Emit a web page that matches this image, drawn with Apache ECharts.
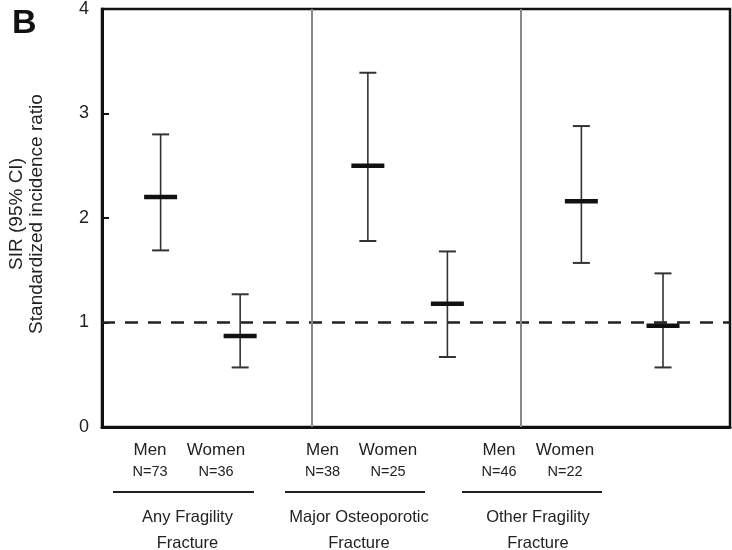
<!DOCTYPE html>
<html>
<head>
<meta charset="utf-8">
<script src="https://cdn.jsdelivr.net/npm/echarts@6/dist/echarts.min.js"></script>
<style>
html,body{margin:0;padding:0;background:#fff;}
#c{width:732px;height:550px;}
</style>
</head>
<body>
<div id="c"></div>
<script>
// ---- data ----
const groups = ['Any Fragility\nFracture', 'Major Osteoporotic\nFracture', 'Other Fragility\nFracture'];
const sexes = ['Men', 'Women', 'Men', 'Women', 'Men', 'Women'];
const nLabels = ['N=73', 'N=36', 'N=38', 'N=25', 'N=46', 'N=22'];
const groupIndex = [0, 0, 1, 1, 2, 2];
const sir = [2.2, 0.87, 2.5, 1.18, 2.16, 0.97];
const ciLow = [1.69, 0.57, 1.78, 0.67, 1.57, 0.57];
const ciHigh = [2.8, 1.27, 3.39, 1.68, 2.88, 1.47];
const yTicks = [0, 1, 2, 3, 4];
const refLine = 1;
const panelDividers = [1, 2];

// within-panel offsets (axis units) for men / women
const offsets = [0.28, 0.66, 0.27, 0.65, 0.29, 0.68];

const FONT = 'Liberation Sans, Arial, Helvetica, sans-serif';
const chart = echarts.init(document.getElementById('c'), null, {renderer: 'canvas'});

const data = sir.map((v, i) => [groupIndex[i] + offsets[i], v, ciLow[i], ciHigh[i]]);

function renderItem(params, api) {
  const x = api.value(0);
  const m = api.coord([x, api.value(1)]);
  const lo = api.coord([x, api.value(2)]);
  const hi = api.coord([x, api.value(3)]);
  const capW = 8.5, barW = 16.5;
  return {
    type: 'group',
    children: [
      {type: 'line', shape: {x1: lo[0], y1: lo[1], x2: hi[0], y2: hi[1]}, style: {stroke: '#333', lineWidth: 1.6}},
      {type: 'line', shape: {x1: lo[0] - capW, y1: lo[1], x2: lo[0] + capW, y2: lo[1]}, style: {stroke: '#333', lineWidth: 2}},
      {type: 'line', shape: {x1: hi[0] - capW, y1: hi[1], x2: hi[0] + capW, y2: hi[1]}, style: {stroke: '#333', lineWidth: 2}},
      {type: 'line', shape: {x1: m[0] - barW, y1: m[1], x2: m[0] + barW, y2: m[1]}, style: {stroke: '#111', lineWidth: 4.5}}
    ]
  };
}

// bottom labels (text) as graphics
const labelX = [150, 216, 322.5, 388, 499, 565];
const groupX = [187.5, 359, 538];
const lineX = [[113, 254], [285, 425], [462, 602]];
const graphics = [
  {type: 'text', left: 12, top: 7, style: {text: 'B', font: 'bold 34px ' + FONT, fill: '#111'}},
  {type: 'text', x: 17, y: 214, rotation: Math.PI / 2, style: {text: 'SIR (95% CI)', font: '19px ' + FONT, fill: '#222', textAlign: 'center', textVerticalAlign: 'middle'}},
  {type: 'text', x: 37, y: 214, rotation: Math.PI / 2, style: {text: 'Standardized incidence ratio', font: '19px ' + FONT, fill: '#222', textAlign: 'center', textVerticalAlign: 'middle'}}
];
sexes.forEach((s, i) => {
  graphics.push({type: 'text', x: labelX[i], y: 450, style: {text: s, font: '17px ' + FONT, fill: '#222', textAlign: 'center', textVerticalAlign: 'middle'}});
  graphics.push({type: 'text', x: labelX[i], y: 472, style: {text: nLabels[i], font: '14.5px ' + FONT, fill: '#222', textAlign: 'center', textVerticalAlign: 'middle'}});
});
groups.forEach((g, i) => {
  graphics.push({type: 'line', shape: {x1: lineX[i][0], y1: 492, x2: lineX[i][1], y2: 492}, style: {stroke: '#222', lineWidth: 2}});
  graphics.push({type: 'text', x: groupX[i], y: 530, style: {text: g, font: '16.5px ' + FONT, fill: '#222', textAlign: 'center', textVerticalAlign: 'middle', lineHeight: 26}});
});

chart.setOption({
  animation: false,
  backgroundColor: '#fff',
  grid: {left: 102, right: 2, top: 8, bottom: 123, show: true, borderColor: '#111', borderWidth: 2.5, backgroundColor: 'transparent'},
  xAxis: {
    type: 'value', min: 0, max: 3, interval: 1,
    axisLine: {show: true, onZero: false, lineStyle: {color: '#111', width: 3}},
    axisTick: {show: false}, axisLabel: {show: false},
    splitLine: {show: false}
  },
  yAxis: {
    type: 'value', min: yTicks[0], max: yTicks[yTicks.length - 1], interval: 1,
    axisLine: {show: true, lineStyle: {color: '#111', width: 3}},
    axisTick: {show: true, inside: true, length: 7, lineStyle: {color: '#111', width: 2}},
    axisLabel: {color: '#222', fontSize: 18, fontFamily: FONT, margin: 13},
    splitLine: {show: false}
  },
  series: [{
    type: 'custom',
    renderItem: renderItem,
    data: data,
    encode: {x: 0, y: [1, 2, 3]},
    z: 5,
    markLine: {
      silent: true, symbol: 'none', label: {show: false},
      data: [
        {yAxis: refLine, lineStyle: {color: '#222', width: 2.5, type: [13, 10]}}
      ].concat(panelDividers.map(d => ({xAxis: d, lineStyle: {color: '#888', width: 2, type: 'solid'}})))
    }
  }],
  graphic: graphics
});
</script>
</body>
</html>
